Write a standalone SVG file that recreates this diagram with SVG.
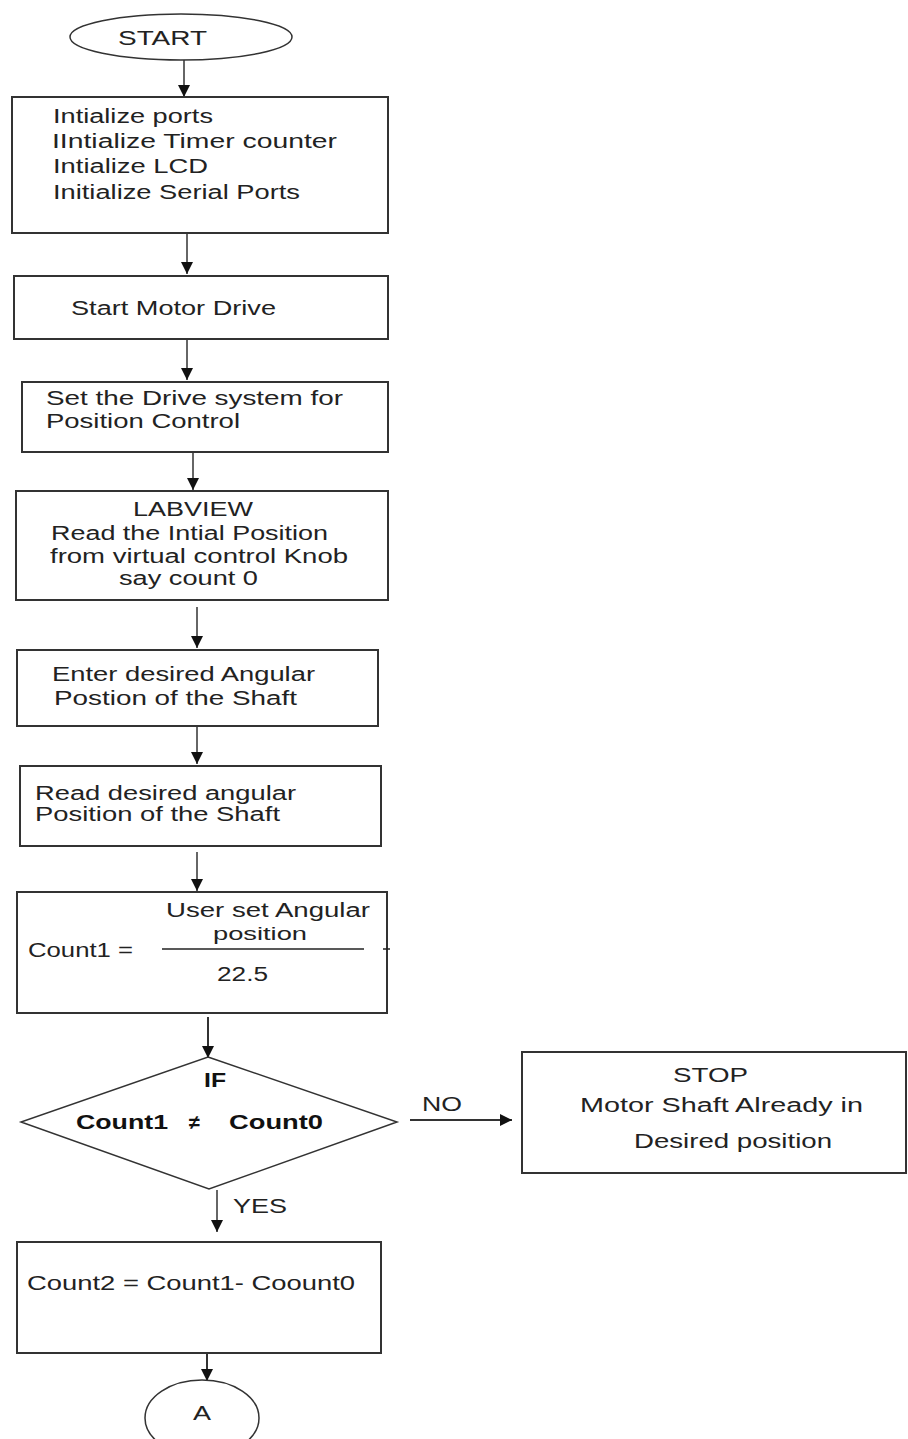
<svg xmlns="http://www.w3.org/2000/svg" width="908" height="1439" viewBox="0 0 908 1439">
<style>
.box{fill:#fff;stroke:#333;stroke-width:2}
.t{font-family:"Liberation Sans",Arial,sans-serif;font-size:20px;fill:#222}
.b{font-family:"Liberation Sans",Arial,sans-serif;font-size:20px;font-weight:bold;fill:#111}
.c{stroke:#666;stroke-width:2;fill:none}
.k{stroke:#333;stroke-width:2;fill:none}
</style>
<defs>
<marker id="ah" markerUnits="userSpaceOnUse" markerWidth="14" markerHeight="14" refX="12" refY="6" orient="auto">
<path d="M0,0 L12,6 L0,12 z" fill="#111"/>
</marker>
</defs>
<rect width="908" height="1439" fill="#fff"/>
<g id="connectors">
<line class="c" x1="184" y1="60" x2="184" y2="97" marker-end="url(#ah)"/>
<line class="c" x1="187" y1="233" x2="187" y2="274" marker-end="url(#ah)"/>
<line class="c" x1="187" y1="339" x2="187" y2="380" marker-end="url(#ah)"/>
<line class="c" x1="193" y1="452" x2="193" y2="490" marker-end="url(#ah)"/>
<line class="c" x1="197" y1="607" x2="197" y2="648" marker-end="url(#ah)"/>
<line class="c" x1="197" y1="726" x2="197" y2="764" marker-end="url(#ah)"/>
<line class="c" x1="197" y1="852" x2="197" y2="891" marker-end="url(#ah)"/>
<line class="k" x1="208" y1="1017" x2="208" y2="1058" marker-end="url(#ah)"/>
<line class="k" x1="410" y1="1120" x2="512" y2="1120" marker-end="url(#ah)"/>
<line class="c" x1="217" y1="1190" x2="217" y2="1232" marker-end="url(#ah)"/>
<line class="k" x1="207" y1="1353" x2="207" y2="1381" marker-end="url(#ah)"/>
<text class="t" x="422" y="1111" textLength="40" lengthAdjust="spacingAndGlyphs">NO</text>
<text class="t" x="233" y="1213" textLength="54" lengthAdjust="spacingAndGlyphs">YES</text>
</g>
<g id="start">
<ellipse cx="181" cy="37" rx="111" ry="23" fill="#fff" stroke="#333" stroke-width="1.5"/>
<text class="t" x="118" y="45" textLength="89" lengthAdjust="spacingAndGlyphs">START</text>
</g>
<g id="init">
<rect class="box" x="12" y="97" width="376" height="136"/>
<text class="t" x="53" y="123" textLength="160" lengthAdjust="spacingAndGlyphs">Intialize ports</text>
<text class="t" x="52" y="148" textLength="285" lengthAdjust="spacingAndGlyphs">IIntialize  Timer counter</text>
<text class="t" x="53" y="173" textLength="155" lengthAdjust="spacingAndGlyphs">Intialize LCD</text>
<text class="t" x="53" y="199" textLength="247" lengthAdjust="spacingAndGlyphs">Initialize Serial Ports</text>
</g>
<g id="startmotor">
<rect class="box" x="14" y="276" width="374" height="63"/>
<text class="t" x="71" y="315" textLength="205" lengthAdjust="spacingAndGlyphs">Start Motor Drive</text>
</g>
<g id="setdrive">
<rect class="box" x="22" y="382" width="366" height="70"/>
<text class="t" x="46" y="405" textLength="297" lengthAdjust="spacingAndGlyphs">Set the Drive system for</text>
<text class="t" x="46" y="428" textLength="194" lengthAdjust="spacingAndGlyphs">Position Control</text>
</g>
<g id="labview">
<rect class="box" x="16" y="491" width="372" height="109"/>
<text class="t" x="133" y="516" textLength="120" lengthAdjust="spacingAndGlyphs">LABVIEW</text>
<text class="t" x="51" y="540" textLength="277" lengthAdjust="spacingAndGlyphs">Read the Intial Position</text>
<text class="t" x="50" y="563" textLength="298" lengthAdjust="spacingAndGlyphs">from virtual control Knob</text>
<text class="t" x="119" y="585" textLength="139" lengthAdjust="spacingAndGlyphs">say count 0</text>
</g>
<g id="enter">
<rect class="box" x="17" y="650" width="361" height="76"/>
<text class="t" x="52" y="681" textLength="263" lengthAdjust="spacingAndGlyphs">Enter desired Angular</text>
<text class="t" x="54" y="705" textLength="243" lengthAdjust="spacingAndGlyphs">Postion  of the Shaft</text>
</g>
<g id="read">
<rect class="box" x="20" y="766" width="361" height="80"/>
<text class="t" x="35" y="800" textLength="261" lengthAdjust="spacingAndGlyphs">Read desired angular</text>
<text class="t" x="35" y="821" textLength="245" lengthAdjust="spacingAndGlyphs">Position of the Shaft</text>
</g>
<g id="count1">
<rect class="box" x="17" y="892" width="370" height="121"/>
<text class="t" x="166" y="917" textLength="204" lengthAdjust="spacingAndGlyphs">User set Angular</text>
<text class="t" x="213" y="940" style="font-size:19px" textLength="94" lengthAdjust="spacingAndGlyphs">position</text>
<line x1="162" y1="949" x2="364" y2="949" stroke="#222" stroke-width="1.5"/>
<line x1="383" y1="949" x2="390" y2="949" stroke="#222" stroke-width="1.5"/>
<text class="t" x="28" y="957" textLength="105" lengthAdjust="spacingAndGlyphs">Count1 =</text>
<text class="t" x="217" y="981" textLength="51" lengthAdjust="spacingAndGlyphs">22.5</text>
</g>
<g id="decision">
<polygon points="208,1057 397,1122 209,1189 21,1122" fill="#fff" stroke="#333" stroke-width="1.5"/>
<text class="b" x="204" y="1087" textLength="22" lengthAdjust="spacingAndGlyphs">IF</text>
<text class="b" x="76" y="1129" textLength="92" lengthAdjust="spacingAndGlyphs">Count1</text>
<text class="b" x="189" y="1129">≠</text>
<text class="b" x="229" y="1129" textLength="94" lengthAdjust="spacingAndGlyphs">Count0</text>
</g>
<g id="stop">
<rect class="box" x="522" y="1052" width="384" height="121"/>
<text class="t" x="673" y="1082" textLength="75" lengthAdjust="spacingAndGlyphs">STOP</text>
<text class="t" x="580" y="1112" textLength="283" lengthAdjust="spacingAndGlyphs">Motor Shaft   Already in</text>
<text class="t" x="634" y="1148" textLength="198" lengthAdjust="spacingAndGlyphs">Desired position</text>
</g>
<g id="count2">
<rect class="box" x="17" y="1242" width="364" height="111"/>
<text class="t" x="27" y="1290" textLength="328" lengthAdjust="spacingAndGlyphs">Count2 = Count1- Coount0</text>
</g>
<g id="connectorA">
<ellipse cx="202" cy="1418" rx="57" ry="38" fill="#fff" stroke="#333" stroke-width="1.5"/>
<text class="t" x="193" y="1420" textLength="18" lengthAdjust="spacingAndGlyphs">A</text>
</g>
</svg>
